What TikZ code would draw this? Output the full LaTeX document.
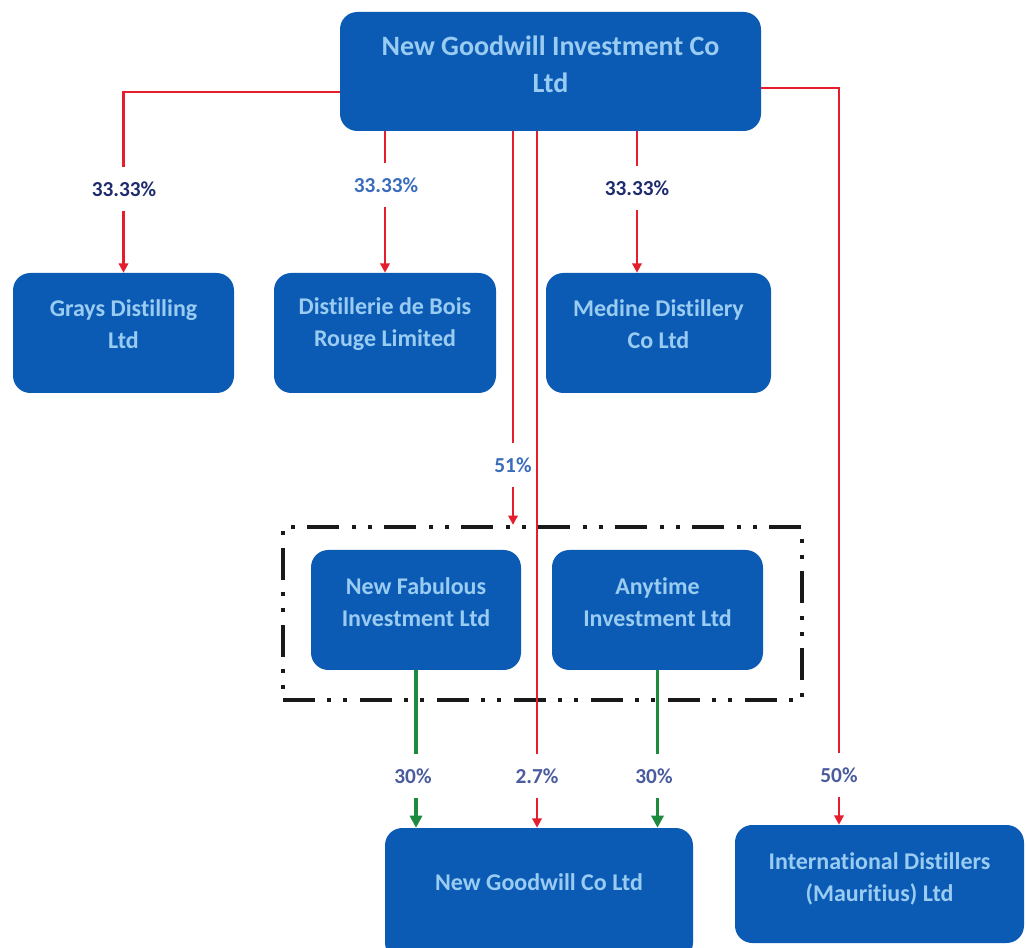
\documentclass[tikz,border=0pt]{standalone}
\usepackage{fontspec}
\setmainfont{Carlito}[Ligatures=NoCommon]
\usetikzlibrary{arrows.meta}
\definecolor{boxblue}{HTML}{0B5BB5}
\definecolor{boxtxt}{HTML}{9ACCF2}
\definecolor{linered}{HTML}{E41E2D}
\definecolor{linegreen}{HTML}{1E8A3E}
\definecolor{navy}{HTML}{1E2C6E}
\definecolor{midblue}{HTML}{3A6CBC}
\definecolor{slateblue}{HTML}{4A5C9E}
\begin{document}
\begin{tikzpicture}[x=0.75pt,y=-0.75pt,
  orgbox/.style={draw=none, fill=boxblue, rounded corners=13pt, inner sep=0pt},
  boxtext/.style={text=boxtxt, font=\bfseries\fontsize{18}{24}\selectfont, align=center, inner sep=0pt},
  toptext/.style={text=boxtxt, font=\bfseries\fontsize{21}{28}\selectfont, align=center, inner sep=0pt},
  redarr/.style={draw=linered, line width=2.2pt, -{Triangle[width=7pt,length=7pt]}},
  greenarr/.style={draw=linegreen, line width=2.6pt, -{Triangle[width=9pt,length=9pt]}},
  pct/.style={fill=white, text=navy, font=\bfseries\fontsize{16}{18}\selectfont, inner xsep=1pt, inner ysep=0pt, minimum height=33pt},
  groupbox/.style={draw=black!90, line width=3.2pt, inner sep=0pt,
    dash pattern=on 24pt off 9pt on 3pt off 9pt on 3pt off 9.75pt}]
\fill[white] (0,0) rectangle (1026,948);
\useasboundingbox (0,0) rectangle (1026,948);
\clip (0,0) rectangle (1026,948);

% boxes
\node[orgbox, minimum width=315.75pt, minimum height=89.25pt] (top) at (550.5,71.5) {};
\node[toptext] (topt) at (550.5,64) {New Goodwill Investment Co\\Ltd};

\node[orgbox, minimum width=165.75pt, minimum height=90pt] (grays) at (123.5,333) {};
\node[boxtext] (graysT) at (123.5,324) {Grays Distilling\\Ltd};

\node[orgbox, minimum width=166.5pt, minimum height=90pt] (dist) at (385,333) {};
\node[boxtext] (distT) at (385,324) {Distillerie de Bois\\Rouge Limited};

\node[orgbox, minimum width=168.75pt, minimum height=90pt] (medine) at (658.5,333) {};
\node[boxtext] (medineT) at (658.5,324) {Medine Distillery\\Co Ltd};

\node[groupbox, minimum width=389.25pt, minimum height=129.75pt] (grp) at (542.5,613.5) {};

\node[orgbox, minimum width=157.5pt, minimum height=90pt] (nf) at (416,610) {};
\node[boxtext] (nfT) at (416,602) {New Fabulous\\Investment Ltd};

\node[orgbox, minimum width=158.25pt, minimum height=90pt] (any) at (657.5,610) {};
\node[boxtext] (anyT) at (657.5,602) {Anytime\\Investment Ltd};

\node[orgbox, minimum width=231pt, minimum height=99pt] (ngc) at (539,894) {};
\node[boxtext] (ngcT) at (539,882) {New Goodwill Co Ltd};

\node[orgbox, minimum width=216.75pt, minimum height=88.5pt] (intl) at (879.5,884) {};
\node[boxtext] (intlT) at (879.5,879) {International Distillers\\(Mauritius) Ltd};

% helper columns / rows
\coordinate (ll) at (124,92);
\coordinate (rr) at (839,88);
\coordinate (mm) at (637,0);
\coordinate (c51) at (513,0);
\coordinate (c27) at (537,0);

% connectors
\draw[redarr] (top.west |- ll) -| (grays.north);
\node[pct] (p1) at (124,189) {33.33\%};

\draw[redarr] (dist.north |- top.south) -- (dist.north);
\node[pct, text=midblue] (p2) at (386,185) {33.33\%};

\draw[redarr] (mm |- top.south) -- (mm |- medine.north);
\node[pct] (p3) at (637,188) {33.33\%};

\draw[redarr] (c51 |- top.south) -- (c51 |- grp.north);
\node[pct, text=midblue] (p4) at (513,465) {51\%};

\draw[redarr] (c27 |- top.south) -- (c27 |- ngc.north);
\node[pct, text=slateblue] (p6) at (537,776) {2.7\%};

\draw[greenarr] (nf.south) -- (nf.south |- ngc.north);
\node[pct, text=slateblue] (p5) at (413,776) {30\%};

\draw[greenarr] (any.south) -- (any.south |- ngc.north);
\node[pct, text=slateblue] (p7) at (654,776) {30\%};

\draw[redarr] (top.east |- rr) -| (rr |- intl.north);
\node[pct, text=slateblue] (p8) at (839,775) {50\%};
\end{tikzpicture}
\end{document}
